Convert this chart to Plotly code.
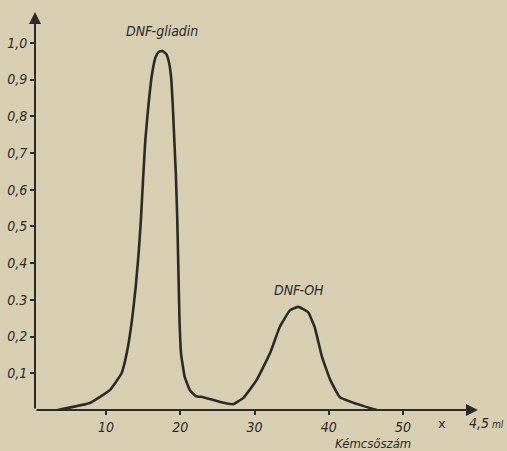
import plotly.graph_objects as go

# Data (tube number vs extinction)
tube = [3.5, 7.8, 10.5, 12.1, 12.8, 13.5, 14.0, 14.4, 14.7, 15.0, 15.3, 15.7, 16.2, 16.7, 17.1, 17.6,
        18.1, 18.5, 18.8, 19.0, 19.2, 19.4, 19.6, 19.7, 19.8, 19.9, 20.1, 20.6, 21.3, 22.1, 23.1,
        25.4, 27.1, 28.5, 30.3, 32.1, 33.4, 34.8, 35.9, 37.2, 38.1, 39.1, 40.2, 41.5, 44.2, 46.5]
absorb = [0.0, 0.019, 0.054, 0.10, 0.155, 0.245, 0.335, 0.428, 0.518, 0.63, 0.736, 0.826, 0.915, 0.962, 0.975, 0.978,
          0.97, 0.945, 0.9, 0.826, 0.736, 0.646, 0.518, 0.428, 0.335, 0.245, 0.155, 0.09, 0.054, 0.038, 0.035,
          0.022, 0.016, 0.033, 0.082, 0.155, 0.226, 0.272, 0.281, 0.267, 0.226, 0.144, 0.082, 0.035, 0.014, 0.0]

y_ticks = [0.1, 0.2, 0.3, 0.4, 0.5, 0.6, 0.7, 0.8, 0.9, 1.0]
y_labels = ["0,1", "0,2", "0.3", "0,4", "0,5", "0,6", "0,7", "0,8", "0,9", "1,0"]
x_ticks = [10, 20, 30, 40, 50]
x_labels = ["10", "20", "30", "40", "50"]

ink = "#2b2a26"
paper = "#d8cfb3"
tfont = dict(family="DejaVu Sans Condensed, DejaVu Sans", size=14, color=ink, style="italic")

fig = go.Figure()
fig.add_trace(go.Scatter(x=tube, y=absorb, mode="lines",
                         line=dict(color=ink, width=2.6, shape="spline", smoothing=0.35),
                         hoverinfo="skip", showlegend=False))

xr = [0.44, 60.1]
yr = [0, 1.084]

fig.update_layout(
    width=507, height=451,
    margin=dict(l=35, r=29, t=12, b=41),
    paper_bgcolor=paper, plot_bgcolor=paper,
    showlegend=False,
    xaxis=dict(range=xr, tickvals=x_ticks, ticktext=x_labels, showgrid=False, zeroline=False,
               showline=False, ticks="outside", ticklen=4, tickcolor=ink, tickwidth=1.5,
               tickfont=tfont, fixedrange=True, automargin=False),
    yaxis=dict(range=yr, tickvals=y_ticks, ticktext=y_labels, showgrid=False, zeroline=False,
               showline=False, ticks="outside", ticklen=4, tickcolor=ink, tickwidth=1.5,
               tickfont=tfont, fixedrange=True, automargin=False),
)

# axes with arrowheads
fig.add_annotation(x=xr[1], y=0, ax=xr[0], ay=0, xref="x", yref="y", axref="x", ayref="y",
                   showarrow=True, arrowhead=2, arrowsize=1.2, arrowwidth=2, arrowcolor=ink, text="")
fig.add_annotation(x=xr[0], y=yr[1], ax=xr[0], ay=0, xref="x", yref="y", axref="x", ayref="y",
                   showarrow=True, arrowhead=2, arrowsize=1.2, arrowwidth=2, arrowcolor=ink, text="")

fig.add_annotation(x=17.6, y=1.0, xref="x", yref="y", text="DNF-gliadin", showarrow=False,
                   yanchor="bottom", font=tfont, yshift=2)
fig.add_annotation(x=36.0, y=0.29, xref="x", yref="y", text="DNF-OH", showarrow=False,
                   yanchor="bottom", font=tfont, yshift=4)
fig.add_annotation(x=55.2, y=0, xref="x", yref="y", text="x", showarrow=False,
                   yanchor="top", yshift=-4, font=dict(family="DejaVu Sans", size=13, color=ink))
fig.add_annotation(x=1.0, y=0, xref="paper", yref="y", xshift=8,
                   text="4,5<span style='font-size:10px'> ml</span>", showarrow=False,
                   yanchor="top", xanchor="center", yshift=-3, font=tfont)
fig.add_annotation(x=46.0, y=0, xref="x", yref="y", text="Kémcsőszám", showarrow=False,
                   yanchor="top", yshift=-24, font=dict(family="DejaVu Sans Condensed, DejaVu Sans",
                                                        size=13, color=ink, style="italic"))

fig.write_html("out.html", config={"displayModeBar": False},
               post_script="document.body.style.margin='0';document.body.style.background='%s';" % paper)
